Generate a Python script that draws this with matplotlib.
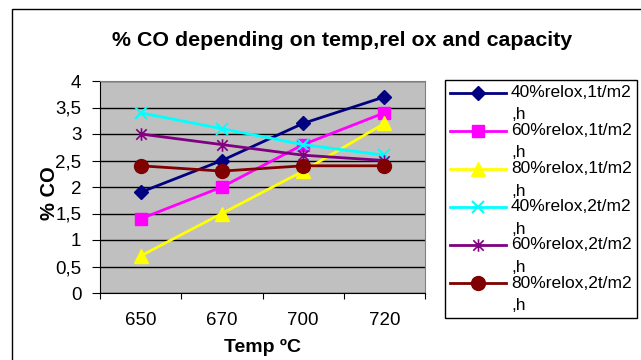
import numpy as np
import matplotlib
matplotlib.use("Agg")
import matplotlib.pyplot as plt
from matplotlib.legend_handler import HandlerLine2D
from matplotlib.patches import Rectangle
from matplotlib.path import Path

plt.rcParams["font.family"] = ["Liberation Sans", "DejaVu Sans"]

# --- data ---
temps = ["650", "670", "700", "720"]
s40_1 = [1.9, 2.5, 3.2, 3.7]
s60_1 = [1.4, 2.0, 2.8, 3.4]
s80_1 = [0.7, 1.5, 2.3, 3.2]
s40_2 = [3.4, 3.1, 2.8, 2.6]
s60_2 = [3.0, 2.8, 2.6, 2.5]
s80_2 = [2.4, 2.3, 2.4, 2.4]
labels = ["40%relox,1t/m2\n,h", "60%relox,1t/m2\n,h", "80%relox,1t/m2\n,h",
          "40%relox,2t/m2\n,h", "60%relox,2t/m2\n,h", "80%relox,2t/m2\n,h"]

# excel style star: x with a vertical bar
star = Path([(-1, -1), (1, 1), (-1, 1), (1, -1), (0, -1.2), (0, 1.2)],
            [Path.MOVETO, Path.LINETO, Path.MOVETO, Path.LINETO, Path.MOVETO, Path.LINETO])

styles = [
    dict(color="#000080", marker="D", ms=7.5),
    dict(color="#FF00FF", marker="s", ms=9),
    dict(color="#FFFF00", marker="^", ms=10),
    dict(color="#00FFFF", marker="x", ms=9, mew=1.5),
    dict(color="#800080", marker=star, ms=9, mew=1.2),
    dict(color="#800000", marker="o", ms=10),
]
series = [s40_1, s60_1, s80_1, s40_2, s60_2, s80_2]

LEG_FS = 12.5
LEG_LS = 1.6


class FirstLineHandler(HandlerLine2D):
    # put the legend marker on the first line of a two line label
    def create_artists(self, legend, orig_handle, xdescent, ydescent,
                       width, height, fontsize, trans):
        arts = super().create_artists(legend, orig_handle, xdescent, ydescent,
                                      width, height, fontsize, trans)
        for a in arts:
            a.set_ydata(np.asarray(a.get_ydata()) + 0.5 * LEG_LS * 0.8 * fontsize)
        return arts


fig = plt.figure(figsize=(6.41, 3.60), dpi=100)
fig.patches.append(Rectangle((12 / 641, -0.1), 1.2, 1 - 9 / 360 + 0.1,
                             transform=fig.transFigure, fill=False,
                             edgecolor="black", lw=1))

ax = fig.add_axes([100 / 641, 1 - 293 / 360, 325 / 641, 212 / 360])
ax.set_facecolor("#C0C0C0")
x = np.arange(1, len(temps) + 1)
lines = []
for vals, st in zip(series, styles):
    ln, = ax.plot(x, vals, lw=2, **st)
    lines.append(ln)

ax.set_xlim(0.5, len(temps) + 0.5)
ax.set_ylim(0, 4)
ax.set_yticks(np.arange(0, 4.01, 0.5))
ax.set_yticklabels([f"{v:g}".replace(".", ",") for v in np.arange(0, 4.01, 0.5)])
ax.yaxis.grid(True, color="black", lw=1)
ax.set_axisbelow(True)
ax.set_xticks(np.arange(0.5, len(temps) + 1, 1))
ax.set_xticklabels([])
ax.set_xticks(x, minor=True)
ax.set_xticklabels(temps, minor=True)
ax.tick_params(axis="x", which="minor", length=0, labelsize=13.5, pad=14)
ax.tick_params(axis="x", which="major", length=4.5, direction="out")
ax.tick_params(axis="y", length=5.5, direction="out", labelsize=13.5, pad=8)
for s in ["top", "right"]:
    ax.spines[s].set_color("#808080")
for s in ["left", "bottom"]:
    ax.spines[s].set_color("black")

ax.set_xlabel("Temp ºC", fontsize=14, fontweight="bold", labelpad=7)
ax.set_ylabel("% CO", fontsize=14.5, fontweight="bold")
ax.yaxis.set_label_coords(-0.126, 0.47)
fig.text(342 / 641, 1 - 40 / 360, "% CO depending on temp,rel ox and capacity",
         ha="center", va="center", fontsize=15.4, fontweight="bold")

leg = fig.legend(lines, labels, loc="upper left",
                 bbox_to_anchor=(445 / 641, 1 - 80 / 360),
                 bbox_transform=fig.transFigure, borderaxespad=0,
                 fontsize=LEG_FS, handlelength=3.2, handletextpad=0.3,
                 labelspacing=0.05, borderpad=0.3, fancybox=False,
                 frameon=True, edgecolor="black", framealpha=1,
                 handler_map={type(lines[0]): FirstLineHandler()})
for t in leg.get_texts():
    t.set_linespacing(LEG_LS)
leg.get_frame().set_linewidth(1)

fig.savefig("out.png", dpi=100)
